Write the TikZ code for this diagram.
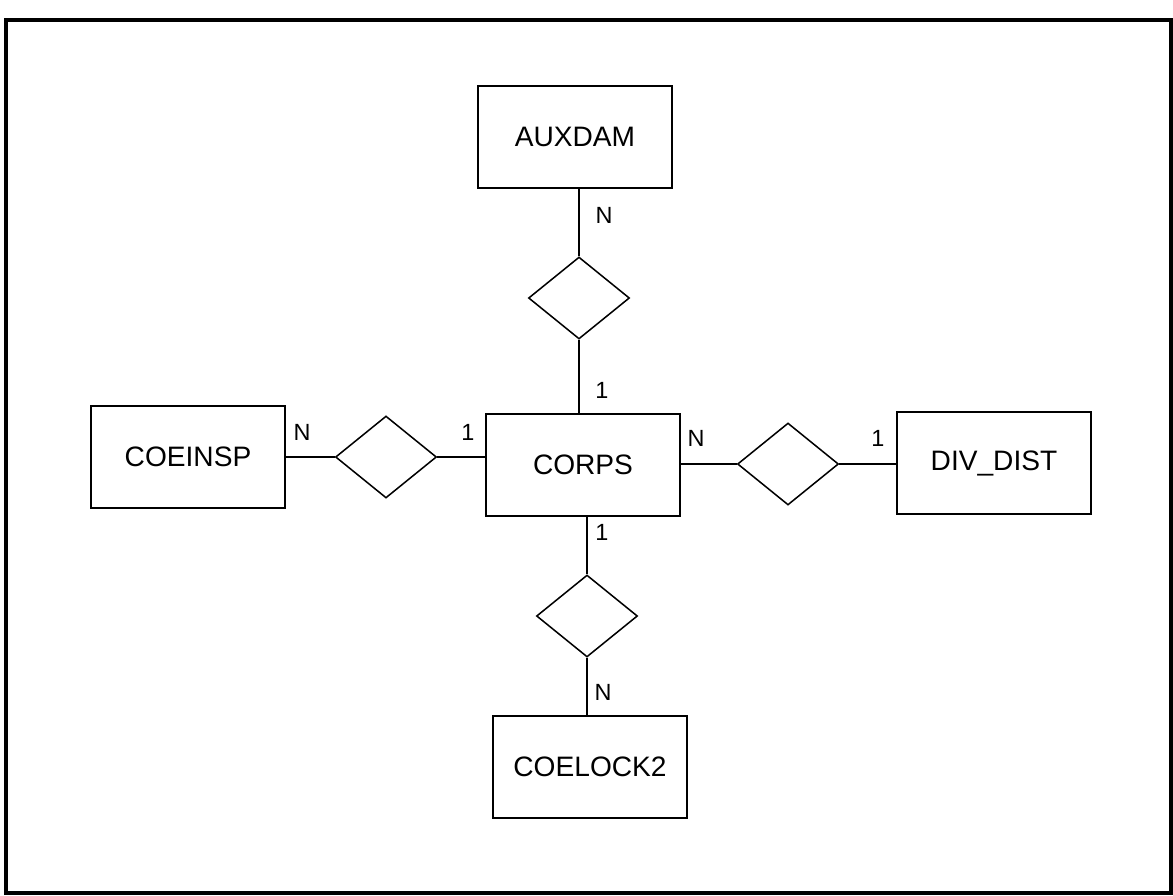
\documentclass[tikz,border=0pt]{standalone}
\usepackage{fontspec}
\setmainfont{Liberation Sans}
\usetikzlibrary{shapes.geometric}

\tikzset{
  entity/.style={draw, line width=1.3pt, minimum width=5.82cm, minimum height=3.05cm,
    inner sep=0pt, font=\fontsize{24}{28}\selectfont},
  rel/.style={draw, diamond, line width=1.3pt, minimum width=3.03cm, minimum height=2.46cm,
    inner sep=0pt},
  card/.style={font=\fontsize{20}{24}\selectfont, inner sep=0pt},
  link/.style={line width=1.3pt}
}

\begin{document}
\begin{tikzpicture}[x=0.03cm, y=-0.03cm]
\useasboundingbox (0,0) rectangle (1173,896);

% Frame
\draw[line width=3pt] (6,20) rectangle (1171,893);

% Entities
\node[entity] (auxdam) at (575,137) {AUXDAM};
\node[entity] (coeinsp) at (188,457) {COEINSP};
\node[entity] (corps) at (583,465) {CORPS};
\node[entity] (divdist) at (994,463) {DIV\_DIST};
\node[entity] (coelock) at (590,767) {COELOCK2};

% Relationships
\node[rel] (rtop) at (579,298) {};
\node[rel] (rleft) at (386,457) {};
\node[rel] (rright) at (788,464) {};
\node[rel] (rbot) at (587,616) {};

% Connectors
\draw[link] (rtop.north) -- (rtop.north |- auxdam.south);
\draw[link] (rtop.south) -- (rtop.south |- corps.north);
\draw[link] (rleft.west) -- (rleft.west -| coeinsp.east);
\draw[link] (rleft.east) -- (rleft.east -| corps.west);
\draw[link] (rright.west) -- (rright.west -| corps.east);
\draw[link] (rright.east) -- (rright.east -| divdist.west);
\draw[link] (rbot.north) -- (rbot.north |- corps.south);
\draw[link] (rbot.south) -- (rbot.south |- coelock.north);

% Cardinalities
\node[card] (ntop) at (604,215) {N};
\node[card] (otop) at (602,390) {1};
\node[card] (nleft) at (302,432) {N};
\node[card] (oleft) at (468,432) {1};
\node[card] (nright) at (696,438) {N};
\node[card] (oright) at (878,438) {1};
\node[card] (obot) at (602,532) {1};
\node[card] (nbot) at (603,692) {N};

\end{tikzpicture}
\end{document}
